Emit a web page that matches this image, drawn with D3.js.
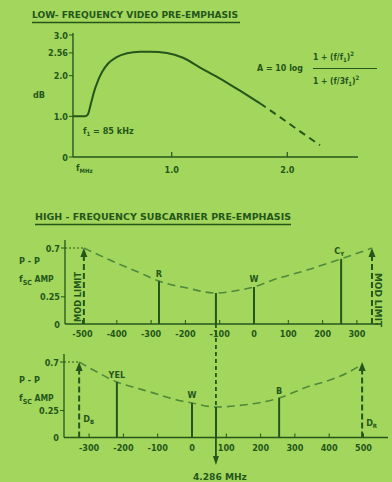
<!DOCTYPE html>
<html><head><meta charset="utf-8">
<script src="https://cdn.jsdelivr.net/npm/d3@7"></script>
<style>
html,body{margin:0;padding:0;background:#a3d65c;}
svg{display:block;}
text{font-family:"DejaVu Sans Condensed","Liberation Sans Narrow",sans-serif;font-weight:bold;fill:#24561b;}
</style></head><body>
<svg id="chart" width="392" height="482"></svg>
<script>
// ---------- low-frequency video pre-emphasis (MHz, dB) ----------
const lfFreq = [0.146, 0.250, 0.275, 0.300, 0.330, 0.360, 0.400, 0.450, 0.520, 0.613, 0.726, 0.812, 0.959, 1.098, 1.245, 1.418, 1.591, 1.764];
const lfGain = [1.0, 1.0, 1.05, 1.30, 1.62, 1.86, 2.10, 2.30, 2.45, 2.55, 2.59, 2.59, 2.56, 2.44, 2.20, 1.93, 1.63, 1.32];
const lfDashFreq = [1.764, 1.937, 2.110, 2.283];
const lfDashGain = [1.32, 0.98, 0.63, 0.29];
const lfYTicks = [0, 1, 2, 2.56, 3];
const lfYTickLabels = ["0", "1.0", "2.0", "2.56", "3.0"];
const lfXTicks = [1, 2];
const lfXTickLabels = ["1.0", "2.0"];

// ---------- Dr subcarrier (kHz offset, p-p amplitude) ----------
const drCurveKHz = [-496, -420, -332, -277, -195, -111, -41, 0, 55, 155, 254, 344];
const drCurveAmp = [0.70, 0.589, 0.470, 0.395, 0.331, 0.285, 0.313, 0.341, 0.405, 0.497, 0.600, 0.70];
const drBarNames = ["R", "", "W", "C"];
const drBarKHz = [-277, -111, 0, 254];
const drBarAmp = [0.395, 0.285, 0.341, 0.600];
const drLimitKHz = [-496, 344];
const drXTicks = [-500, -400, -300, -200, -100, 0, 100, 200, 300];

// ---------- Db subcarrier ----------
const dbCurveKHz = [-329, -277, -219, -172, -122, -44, 0, 70, 149, 207, 254, 335, 402, 452, 496];
const dbCurveAmp = [0.70, 0.607, 0.514, 0.468, 0.422, 0.348, 0.320, 0.283, 0.301, 0.329, 0.366, 0.468, 0.533, 0.598, 0.68];
const dbBarNames = ["YEL", "W", "", "B"];
const dbBarKHz = [-219, 0, 70, 254];
const dbBarAmp = [0.514, 0.320, 0.283, 0.366];
const dbLimitKHz = [-329, 496];
const dbXTicks = [-300, -200, -100, 0, 100, 200, 300, 400, 500];

const limitAmp = 0.7;
const ampTicks = [0, 0.25, 0.7];
const ampTickLabels = ["0", "0.25", "0.7"];

const INK = "#24561b";
const DASHINK = "#4f8a3c";

const svg = d3.select("#chart");
svg.append("rect").attr("width", 392).attr("height", 482).attr("fill", "#a3d65c");

function label(g, x, y, str, size, opts = {}) {
  const t = g.append("text").attr("x", x).attr("y", y)
    .attr("font-size", size).attr("text-anchor", opts.anchor || "start").text(str);
  if (opts.len) t.attr("textLength", opts.len).attr("lengthAdjust", "spacingAndGlyphs");
  return t;
}
function sub(t, str, size, dy) {
  t.append("tspan").attr("font-size", size).attr("dy", dy).text(str);
}
function arrowHead(g, x, y, up, w, h) {
  const d = up ? `M${x},${y} L${x - w / 2},${y + h} L${x + w / 2},${y + h} Z`
               : `M${x},${y} L${x - w / 2},${y - h} L${x + w / 2},${y - h} Z`;
  g.append("path").attr("d", d).attr("fill", INK);
}

// ================= low-frequency panel =================
const lfPanel = svg.append("g");
label(lfPanel, 32, 18, "LOW- FREQUENCY VIDEO PRE-EMPHASIS", 9.5, { len: 206 });
lfPanel.append("line").attr("x1", 32).attr("x2", 240).attr("y1", 22.5).attr("y2", 22.5)
  .attr("stroke", INK).attr("stroke-width", 1.4);

const fx = d3.scaleLinear().domain([0, 1]).range([56.1, 171.7]);
const fy = d3.scaleLinear().domain([0, 3]).range([157, 35]);

lfPanel.append("line").attr("x1", fx(lfFreq[0])).attr("x2", fx(lfFreq[0]))
  .attr("y1", fy(0)).attr("y2", fy(3) - 2).attr("stroke", INK).attr("stroke-width", 1.4);
lfPanel.append("line").attr("x1", fx(lfFreq[0])).attr("x2", 358)
  .attr("y1", fy(0)).attr("y2", fy(0)).attr("stroke", INK).attr("stroke-width", 1.4);

lfYTicks.forEach((v, i) => {
  lfPanel.append("line").attr("x1", fx(lfFreq[0]) - 4).attr("x2", fx(lfFreq[0]))
    .attr("y1", fy(v)).attr("y2", fy(v)).attr("stroke", INK).attr("stroke-width", 1);
  label(lfPanel, 68, fy(v) + 3.5, lfYTickLabels[i], 9, { anchor: "end" });
});
lfXTicks.forEach((v, i) => {
  lfPanel.append("line").attr("x1", fx(v)).attr("x2", fx(v))
    .attr("y1", fy(0)).attr("y2", fy(0) - 5).attr("stroke", INK).attr("stroke-width", 1.2);
  label(lfPanel, fx(v), 173, lfXTickLabels[i], 9, { anchor: "middle" });
});
label(lfPanel, 33, 98, "dB", 9);
{
  const t = label(lfPanel, 76, 171, "f", 9);
  sub(t, "MHz", 6, 2);
}

const lfLine = d3.line().x((d) => fx(d[0])).y((d) => fy(d[1])).curve(d3.curveMonotoneX);
lfPanel.append("path").attr("d", lfLine(d3.zip(lfFreq, lfGain)))
  .attr("fill", "none").attr("stroke", INK).attr("stroke-width", 2);
lfPanel.append("path").attr("d", lfLine(d3.zip(lfDashFreq, lfDashGain)))
  .attr("fill", "none").attr("stroke", INK).attr("stroke-width", 2)
  .attr("stroke-dasharray", "7,5");

{
  const t = label(lfPanel, 83, 134, "f", 9);
  sub(t, "1", 6, 2);
  t.append("tspan").attr("dy", -2).text(" = 85 kHz");
}
label(lfPanel, 257, 71, "A = 10 log", 9, { len: 46 });
{
  const t = label(lfPanel, 313, 60, "1 + (f/f", 8.5);
  sub(t, "1", 6, 2);
  t.append("tspan").attr("dy", -2).text(")");
  sub(t, "2", 6, -4);
}
lfPanel.append("line").attr("x1", 313).attr("x2", 377).attr("y1", 68.5).attr("y2", 68.5)
  .attr("stroke", INK).attr("stroke-width", 1.2);
{
  const t = label(lfPanel, 313, 84, "1 + (f/3f", 8.5);
  sub(t, "1", 6, 2);
  t.append("tspan").attr("dy", -2).text(")");
  sub(t, "2", 6, -4);
}

// ================= subcarrier panels =================
label(svg, 35, 220, "HIGH - FREQUENCY  SUBCARRIER PRE-EMPHASIS", 9.5, { len: 256 });
svg.append("line").attr("x1", 35).attr("x2", 291).attr("y1", 224.5).attr("y2", 224.5)
  .attr("stroke", INK).attr("stroke-width", 1.4);

function panel(cfg) {
  const g = svg.append("g");
  const x = d3.scaleLinear().domain(cfg.xDom).range(cfg.xRange);
  const y = d3.scaleLinear().domain([0, 0.7]).range(cfg.yRange);

  // axes
  g.append("line").attr("x1", cfg.axisX).attr("x2", cfg.axisX)
    .attr("y1", y(0)).attr("y2", y(0.7) - 8).attr("stroke", INK).attr("stroke-width", 1.3);
  g.append("line").attr("x1", cfg.axisX).attr("x2", cfg.axisEnd)
    .attr("y1", y(0)).attr("y2", y(0)).attr("stroke", INK).attr("stroke-width", 1.3);
  ampTicks.forEach((v, i) => {
    if (v > 0) g.append("line").attr("x1", cfg.axisX - 4).attr("x2", cfg.axisX)
      .attr("y1", y(v)).attr("y2", y(v)).attr("stroke", INK).attr("stroke-width", 1);
    label(g, cfg.axisX - 5, y(v) + 3.5, ampTickLabels[i], 9, { anchor: "end" });
  });
  cfg.xTicks.forEach((v) => {
    g.append("line").attr("x1", x(v)).attr("x2", x(v))
      .attr("y1", y(0)).attr("y2", y(0) - 4).attr("stroke", INK).attr("stroke-width", 1);
    label(g, x(v), y(0) + 13, String(v), 9, { anchor: "middle" });
  });
  label(g, 19, cfg.ppY, "P - P", 9);
  {
    const t = label(g, 19, cfg.ppY + 18, "f", 9.5);
    sub(t, "SC", 7, 2.5);
    t.append("tspan").attr("dy", -2.5).attr("font-size", 8.5).text(" AMP");
  }

  // dotted reference from axis to the left limit
  g.append("line").attr("x1", cfg.axisX).attr("x2", x(cfg.limitKHz[0]))
    .attr("y1", y(limitAmp)).attr("y2", y(limitAmp))
    .attr("stroke", INK).attr("stroke-width", 1.2).attr("stroke-dasharray", "2,2");

  // dashed envelope
  const line = d3.line().x((d) => x(d[0])).y((d) => y(d[1])).curve(d3.curveMonotoneX);
  g.append("path").attr("d", line(d3.zip(cfg.curveKHz, cfg.curveAmp)))
    .attr("fill", "none").attr("stroke", DASHINK).attr("stroke-width", 1.6)
    .attr("stroke-dasharray", "8,5");

  // limit arrows
  cfg.limitKHz.forEach((k) => {
    g.append("line").attr("x1", x(k)).attr("x2", x(k))
      .attr("y1", y(0)).attr("y2", y(limitAmp) + 7)
      .attr("stroke", INK).attr("stroke-width", 2).attr("stroke-dasharray", "6,3");
    arrowHead(g, x(k), y(limitAmp), true, 7, 9);
  });

  // bars
  cfg.barKHz.forEach((k, i) => {
    g.append("line").attr("x1", x(k)).attr("x2", x(k))
      .attr("y1", y(0)).attr("y2", y(cfg.barAmp[i]))
      .attr("stroke", INK).attr("stroke-width", 2);
    const name = cfg.barNames[i];
    if (name) {
      const t = label(g, x(k) - (name === "C" ? 2 : 0), y(cfg.barAmp[i]) - 4.5, name, 9, { anchor: "middle" });
      if (name === "C") sub(t, "Y", 6, 2);
    }
  });
  return { x, y };
}

const mid = panel({
  xDom: [-500, 300], xRange: [82.5, 356.9], yRange: [324, 248],
  axisX: 65, axisEnd: 378, xTicks: drXTicks, ppY: 264,
  curveKHz: drCurveKHz, curveAmp: drCurveAmp,
  barKHz: drBarKHz, barAmp: drBarAmp, barNames: drBarNames, limitKHz: drLimitKHz
});
const bot = panel({
  xDom: [-300, 500], xRange: [89.1, 363.5], yRange: [437.5, 362],
  axisX: 64, axisEnd: 388, xTicks: dbXTicks, ppY: 383,
  curveKHz: dbCurveKHz, curveAmp: dbCurveAmp,
  barKHz: dbBarKHz, barAmp: dbBarAmp, barNames: dbBarNames, limitKHz: dbLimitKHz
});

// MOD LIMIT captions
label(svg, 0, 0, "MOD LIMIT", 9, { anchor: "middle", len: 50 })
  .attr("transform", `translate(${mid.x(drLimitKHz[0]) - 3},297) rotate(-90)`);
label(svg, 0, 0, "MOD LIMIT", 9, { anchor: "middle", len: 54 })
  .attr("transform", `translate(${mid.x(drLimitKHz[1]) + 3},300) rotate(90)`);

// D_B / D_R captions
{
  const t = label(svg, bot.x(dbLimitKHz[0]) + 4, 422, "D", 9);
  sub(t, "B", 6, 2);
  const u = label(svg, bot.x(dbLimitKHz[1]) + 4, 426, "D", 9);
  sub(u, "R", 6, 2);
}

// bell-filter centre marker running through both panels
{
  const cx = mid.x(drBarKHz[1]);
  svg.append("line").attr("x1", cx).attr("x2", cx)
    .attr("y1", mid.y(0)).attr("y2", bot.y(dbBarAmp[2]))
    .attr("stroke", INK).attr("stroke-width", 1.8).attr("stroke-dasharray", "4,3");
  svg.append("line").attr("x1", cx).attr("x2", cx)
    .attr("y1", bot.y(0)).attr("y2", 457)
    .attr("stroke", INK).attr("stroke-width", 1.8);
  arrowHead(svg, cx, 465, false, 6, 9);
  label(svg, cx + 4, 480, "4.286 MHz", 9, { anchor: "middle", len: 54 });
}
</script>
</body></html>
